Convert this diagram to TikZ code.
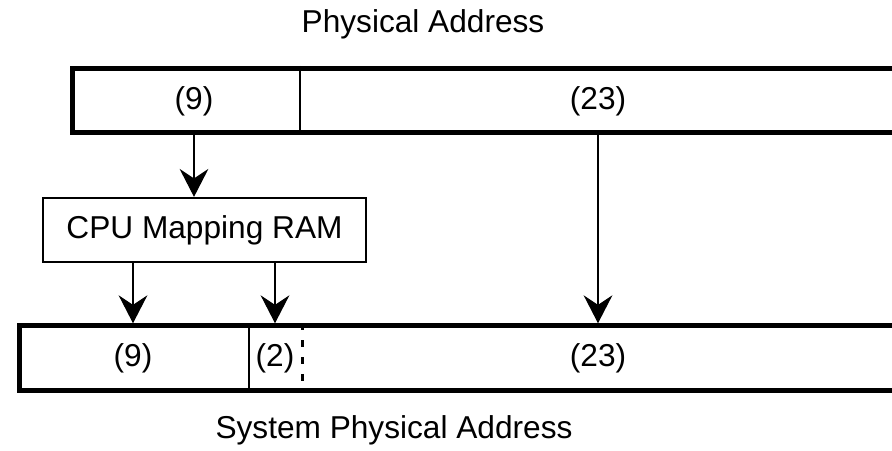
\documentclass[tikz,border=0pt]{standalone}
\usepackage{fontspec}
\setmainfont{Liberation Sans}
\usetikzlibrary{arrows.meta}
\tikzset{
  lbl/.style={font=\fontsize{22.5}{26}\selectfont, inner sep=0pt},
  regbox/.style={draw, line width=3.6pt, anchor=west, inner sep=0pt},
  mapbox/.style={draw, line width=1.6pt, inner sep=0pt, font=\fontsize{22.5}{26}\selectfont},
  divider/.style={line width=1.7pt},
  dotdiv/.style={line width=2pt, dash pattern=on 5pt off 7pt},
  maparrow/.style={line width=1.4pt, -{Stealth[length=0.7cm, width=0.72cm, inset=0.24cm, line width=0.8pt]}}
}
\begin{document}
\begin{tikzpicture}[x=0.025cm,y=-0.025cm]
\useasboundingbox (0,0) rectangle (892,450);
\node[lbl] (patitle) at (423,24) {Physical Address};
\node[regbox, minimum width=21cm, minimum height=1.6cm] (pa) at (70,100.5) {};
\draw[divider] ([xshift=5.75cm]pa.north west) -- ([xshift=5.75cm]pa.south west);
\node[lbl] (pa9) at (194,101) {(9)};
\node[lbl] (pa23) at (598,101) {(23)};
\node[mapbox, minimum width=8.07cm, minimum height=1.6cm] (cpu) at (204.5,230) {CPU Mapping RAM};
\node[regbox, minimum width=22.4cm, minimum height=1.61cm] (spa) at (16.5,358) {};
\draw[divider] ([xshift=5.81cm]spa.north west) -- ([xshift=5.81cm]spa.south west);
\draw[dotdiv] ([xshift=7.14cm]spa.north west) -- ([xshift=7.14cm]spa.south west);
\node[lbl] (spa9) at (133,358) {(9)};
\node[lbl] (spa2) at (275,358) {(2)};
\node[lbl] (spa23) at (598,358) {(23)};
\node[lbl] (spatitle) at (394,430) {System Physical Address};
\draw[maparrow] (pa.south -| pa9) -- (cpu.north -| pa9);
\draw[maparrow] (cpu.south -| spa9) -- (spa.north -| spa9);
\draw[maparrow] (cpu.south -| spa2) -- (spa.north -| spa2);
\draw[maparrow] (pa.south -| pa23) -- (spa.north -| pa23);
\end{tikzpicture}
\end{document}
